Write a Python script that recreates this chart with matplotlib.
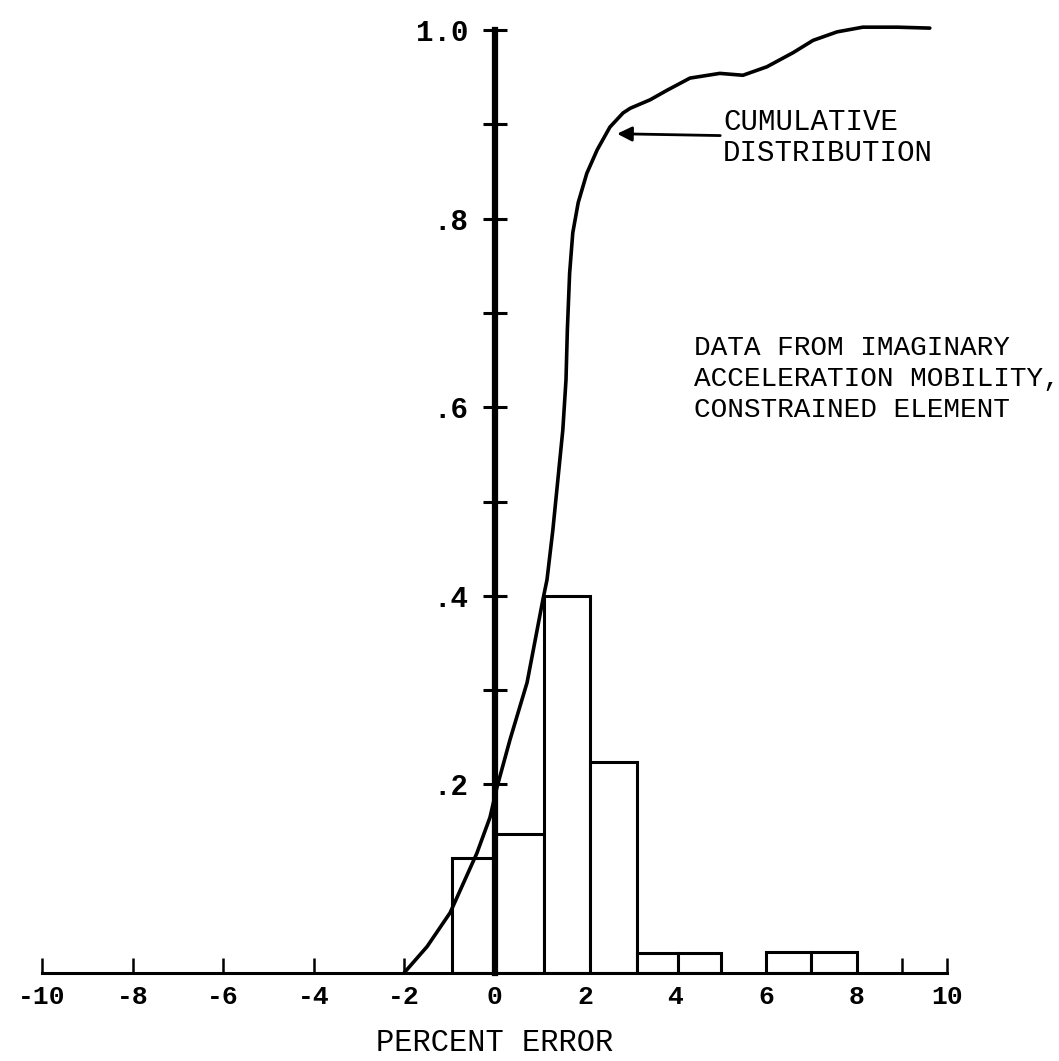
import numpy as np
import matplotlib
matplotlib.use('Agg')
import matplotlib.pyplot as plt
from matplotlib.ticker import FixedLocator

## ==========Data
bin_left = [-0.95, 0.0, 1.1, 2.1, 3.15, 4.05, 6.0, 7.0]
bin_right = [0.0, 1.1, 2.1, 3.15, 4.05, 5.0, 7.0, 8.0]
bin_freq = [0.122, 0.147, 0.40, 0.224, 0.021, 0.021, 0.022, 0.022]

cum_x = [-2.0, -1.49, -0.98, -0.39, -0.10, 0.055, 0.34, 0.72, 1.07, 1.16, 1.29,
         1.40, 1.51, 1.58, 1.61, 1.63, 1.66, 1.73, 1.85, 2.04, 2.27, 2.55, 2.84,
         3.0, 3.44, 3.81, 4.32, 4.98, 5.49, 6.02, 6.6, 7.04, 7.57, 8.14, 8.9, 9.62]
cum_y = [0.0, 0.028, 0.064, 0.127, 0.165, 0.197, 0.247, 0.308, 0.396, 0.417, 0.470,
         0.523, 0.576, 0.629, 0.682, 0.706, 0.742, 0.785, 0.817, 0.848, 0.873, 0.897, 0.912,
         0.917, 0.926, 0.936, 0.949, 0.954, 0.952, 0.961, 0.976, 0.989, 0.998, 1.003, 1.003, 1.002]

x_ticks = [-10, -8, -6, -4, -2, 0, 2, 4, 6, 8, 10]
x_ticklabels = ['-10', '-8', '-6', '-4', '-2', '0', '2', '4', '6', '8', '10']
y_ticks = [0.1, 0.2, 0.3, 0.4, 0.5, 0.6, 0.7, 0.8, 0.9, 1.0]
y_ticklabels = ['', '.2', '', '.4', '', '.6', '', '.8', '', '1.0']

mono = 'Liberation Mono'

fig = plt.figure(figsize=(10.59, 10.61), dpi=100)
ax = fig.add_axes([42/1059, 88/1061, 905/1059, 943/1061])
ax.set_xlim(-10, 10)
ax.set_ylim(0, 1.0)

## ==========Histogram bars
for l, r, h in zip(bin_left, bin_right, bin_freq):
    ax.bar(l, h, width=r - l, align='edge', facecolor='white',
           edgecolor='black', linewidth=2.2, zorder=2)

## ==========Cumulative curve
ax.plot(cum_x, cum_y, color='black', linewidth=2.6, solid_joinstyle='round',
        solid_capstyle='round', clip_on=False, zorder=4)

## ==========Axes
for s in ['top', 'right']:
    ax.spines[s].set_visible(False)
ax.spines['left'].set_position(('data', 0))
ax.spines['left'].set_linewidth(4.5)
ax.spines['left'].set_bounds(0, 1.0)
ax.spines['left'].set_zorder(3)
ax.spines['bottom'].set_linewidth(2.2)

ax.set_xticks(x_ticks)
ax.set_xticklabels(x_ticklabels, fontfamily=mono, fontweight='bold', fontsize=19)
ax.xaxis.set_minor_locator(FixedLocator([9]))
ax.tick_params(axis='x', which='both', direction='in', length=11, width=1.8, pad=9)

ax.set_yticks(y_ticks)
ax.set_yticklabels(y_ticklabels, fontfamily=mono, fontweight='bold', fontsize=21)
ax.tick_params(axis='y', direction='inout', length=17, width=2.2, pad=10)

ax.text(0, -0.074, 'PERCENT ERROR', ha='center', va='center',
        fontfamily=mono, fontsize=22)

## ==========Annotations
ax.annotate('CUMULATIVE\nDISTRIBUTION', xy=(2.71, 0.890), xytext=(5.05, 0.886),
            ha='left', va='center', fontfamily=mono, fontsize=21, linespacing=1.12,
            arrowprops=dict(arrowstyle='-|>', color='black', lw=2,
                            mutation_scale=22, shrinkA=0, shrinkB=0))
ax.text(4.4, 0.677, 'DATA FROM IMAGINARY\nACCELERATION MOBILITY,\nCONSTRAINED ELEMENT',
        ha='left', va='top', fontfamily=mono, fontsize=20, linespacing=1.25)

fig.savefig('out.png', dpi=100)
